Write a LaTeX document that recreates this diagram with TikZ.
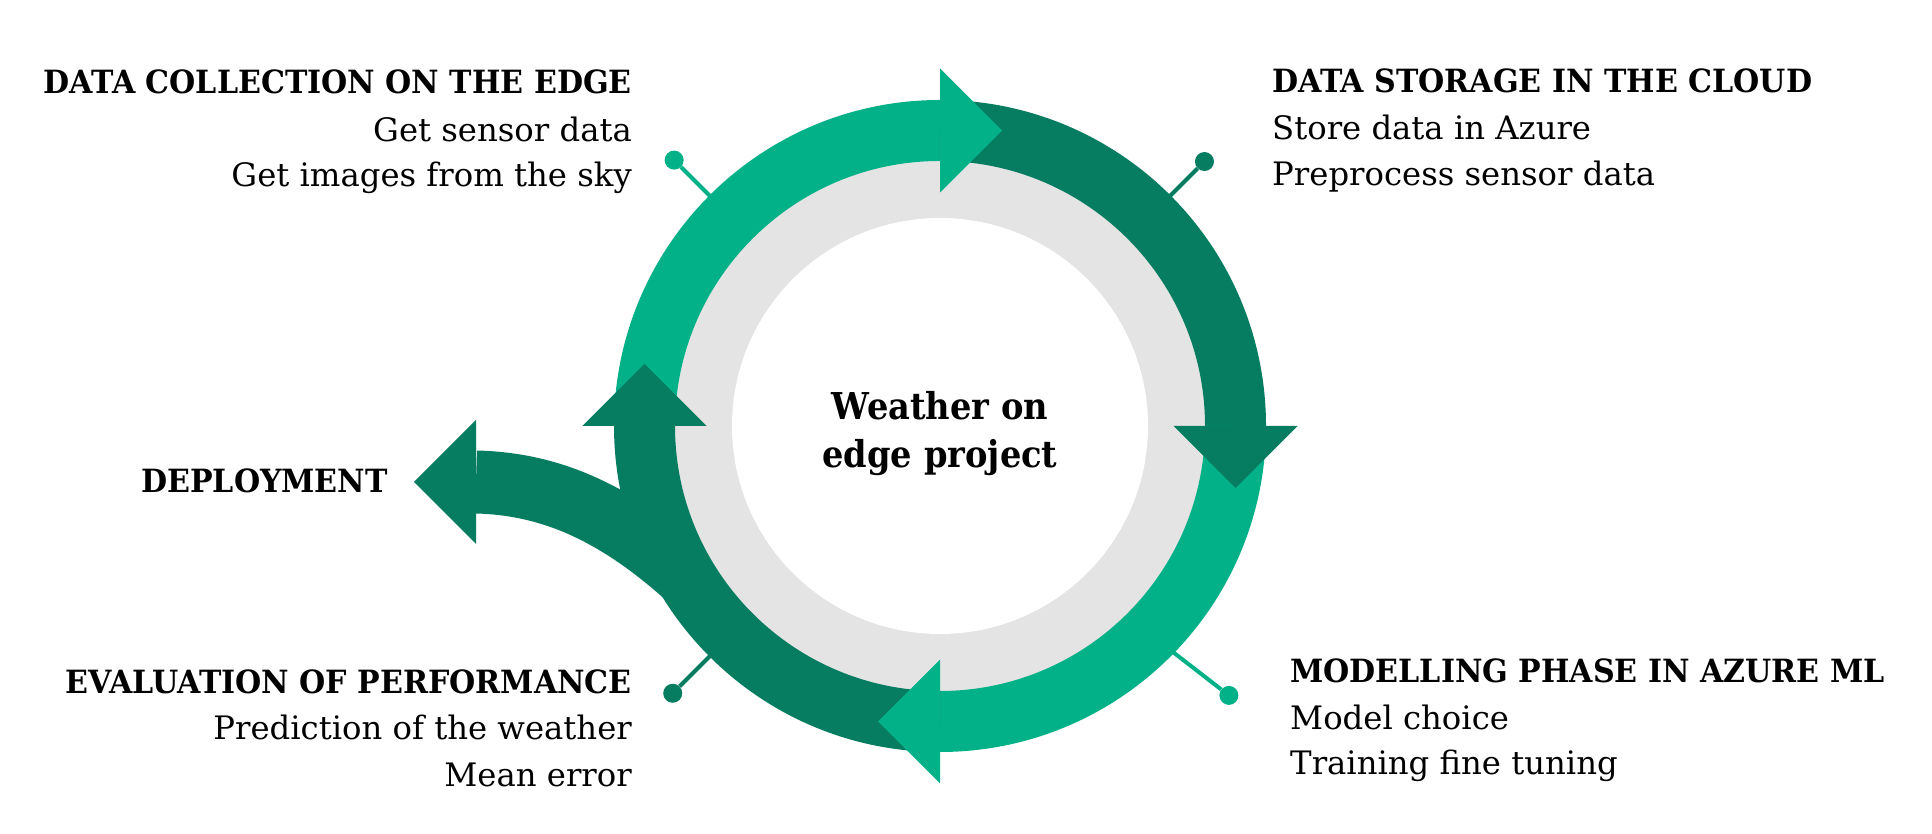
\documentclass[tikz,border=0pt]{standalone}
\usepackage{fontspec}
\setmainfont{DejaVu Serif}
\newfontfamily\headfont{DejaVu Serif}[FakeStretch=0.94]
\newfontfamily\hubfont{DejaVu Serif}[FakeStretch=0.91]
\usetikzlibrary{calc}
\definecolor{ringlight}{RGB}{3,177,137}
\definecolor{ringdark}{RGB}{6,125,97}
\definecolor{ringgray}{RGB}{228,228,228}
\begin{document}
\begin{tikzpicture}[x=1pt, y=1pt,
    band/.style={line width=61pt},
    title/.style={font=\headfont\bfseries\fontsize{32}{38}\selectfont, inner sep=0pt},
    item/.style={font=\fontsize{32.3}{38}\selectfont, inner sep=0pt},
    hub/.style={font=\hubfont\bfseries\fontsize{37}{44}\selectfont, inner sep=0pt},
    dot/.style={circle, inner sep=0pt, minimum size=19pt},
    tick/.style={line width=4pt}]
    \useasboundingbox[fill=white] (0,0) rectangle (1932,834);
    \coordinate (C) at (940,408);

    \coordinate (dep)    at (476,352);
    \coordinate (depEnd) at (740,204);
    \draw[band, line width=63pt, ringdark] (dep) .. controls (560,350) and (640,314) .. (depEnd);
    \fill[ringdark] (476,414) -- (414,352) -- (476,290) -- cycle;

    \foreach \n/\a/\s/\r/\c in {tl/135/135/376/ringlight, tr/45/45/374/ringdark,
                                bl/225/225/378/ringdark, br/-44.4/-43/395/ringlight} {
        \coordinate (\n edge) at ($(C)+(\a:312)$);
        \node[dot, fill=\c] (\n dot) at ($(C)+(\s:\r)$) {};
        \draw[tick, \c] (\n edge) -- (\n dot);
    }

    \fill[ringgray] (C) circle (270);
    \fill[white] (C) circle (208);

    \foreach \s/\e/\c in {180/90/ringlight, 90/0/ringdark, 0/-90/ringlight, -90/-180/ringdark}
        \draw[band, \c] ($(C)+(\s:295.5)$) arc[start angle=\s, end angle=\e, radius=295.5];
    \foreach \b/\c in {90/ringlight, 0/ringdark, -90/ringlight, 180/ringdark}
        \fill[\c] ($(C)+(\b:233.5)$) -- ($(C)+(\b:357.5)$)
            -- ($(C)+(\b:295.5)+({\b-90}:62)$) -- cycle;

    \node[hub, anchor=base] (hub1) at (940,414) {Weather on};
    \node[hub, anchor=base] (hub2) at (940,366) {edge project};

    \node[title, anchor=base east] (collect)  at (632,740) {DATA COLLECTION ON THE EDGE};
    \node[item,  anchor=base east] (collect1) at (632,692) {Get sensor data};
    \node[item,  anchor=base east] (collect2) at (632,647) {Get images from the sky};

    \node[title, anchor=base west] (storage)  at (1272,741) {DATA STORAGE IN THE CLOUD};
    \node[item,  anchor=base west] (storage1) at (1272,694) {Store data in Azure};
    \node[item,  anchor=base west] (storage2) at (1272,648) {Preprocess sensor data};

    \node[title, anchor=base west] (model)  at (1290,151) {MODELLING PHASE IN AZURE ML};
    \node[item,  anchor=base west] (model1) at (1290,104) {Model choice};
    \node[item,  anchor=base west] (model2) at (1290,59)  {Training fine tuning};

    \node[title, anchor=base east] (eval)  at (632,140) {EVALUATION OF PERFORMANCE};
    \node[item,  anchor=base east] (eval1) at (632,94)  {Prediction of the weather};
    \node[item,  anchor=base east] (eval2) at (632,47)  {Mean error};

    \node[title, anchor=base east] (deploy) at (388,341) {DEPLOYMENT};
\end{tikzpicture}
\end{document}
